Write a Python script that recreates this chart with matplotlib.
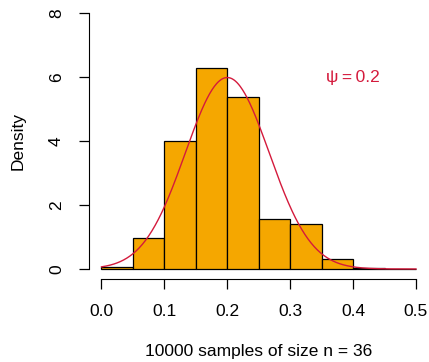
import numpy as np
import matplotlib
matplotlib.use("Agg")
import matplotlib.pyplot as plt

# histogram of sample proportions (density scale)
bin_edges = [0.0, 0.05, 0.10, 0.15, 0.20, 0.25, 0.30, 0.35, 0.40, 0.45, 0.50]
densities = [0.05, 0.96, 3.99, 6.27, 5.38, 1.55, 1.41, 0.30, 0.03, 0.003]

# normal approximation parameters
psi = 0.2
n = 36
curve_sd = np.sqrt(psi * (1 - psi) / n)

x_ticks = [0.0, 0.1, 0.2, 0.3, 0.4, 0.5]
x_tick_labels = ["0.0", "0.1", "0.2", "0.3", "0.4", "0.5"]
y_ticks = [0, 2, 4, 6, 8]

plt.rcParams["font.family"] = ["Liberation Sans", "DejaVu Sans"]
plt.rcParams["font.size"] = 12.5

fig = plt.figure(figsize=(4.29, 3.62), dpi=100)
ax = fig.add_axes([0.2072, 0.2287, 0.999 - 0.2072, 0.9923 - 0.2287])

lefts = bin_edges[:-1]
widths = np.diff(bin_edges)
ax.bar(lefts, densities, width=widths, align="edge",
       color="#F5A700", edgecolor="black", linewidth=0.9)

xs = np.linspace(0, 0.5, 400)
pdf = np.exp(-0.5 * ((xs - psi) / curve_sd) ** 2) / (curve_sd * np.sqrt(2 * np.pi))
ax.plot(xs, pdf, color="#D41A3C", linewidth=1.0)

ax.text(0.4, 6.0, "\u03c8\u2009=\u20090.2", color="#D41A3C", ha="center", va="center", fontsize=12.5)

ax.set_xlim(-0.02, 0.52)
ax.set_ylim(-0.32, 8.32)

for side in ["top", "right"]:
    ax.spines[side].set_visible(False)
ax.spines["left"].set_bounds(0, 8)
ax.spines["bottom"].set_bounds(0, 0.5)

ax.set_xticks(x_ticks)
ax.set_xticklabels(x_tick_labels)
ax.set_yticks(y_ticks)
ax.set_yticklabels([str(t) for t in y_ticks], rotation=90, va="center")
ax.tick_params(length=7.5, width=0.9, pad=10.5)

ax.set_ylabel("Density", labelpad=16.5)
ax.set_xlabel("10000 samples of size n = 36", labelpad=18)

fig.savefig("out.png", dpi=100)
